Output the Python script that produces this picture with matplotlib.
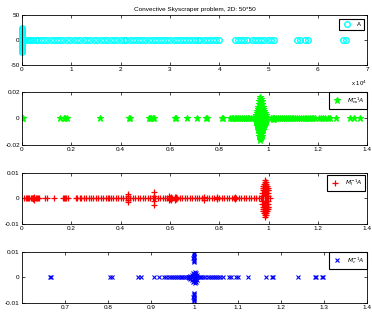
import numpy as np
import matplotlib
matplotlib.use("Agg")
import matplotlib.pyplot as plt

plt.rcParams['font.family'] = ['Liberation Sans', 'DejaVu Sans']

# Eigenvalues of A (real axis part)
a_re = [0, 150, 400, 700, 1000, 1400, 1800, 2300, 2800, 3300, 3900, 4500, 5100,
        5800, 6400, 7100, 7700, 8400, 9100, 9800, 10500, 11200, 11800, 12500,
        13200, 13900, 14600, 15300, 16000, 16600, 17200, 18000, 18600, 19300,
        20000, 20600, 21200, 21900, 22500, 23100, 23800, 24400, 25000, 25700,
        26300, 27000, 27600, 28200, 28900, 29500, 30100, 30800, 31400, 32000,
        32700, 33300, 33800, 34400, 35000, 35600, 36200, 36900, 37500, 38200,
        38800, 39400, 40000, 43300, 43900, 44500, 45100, 45700, 46700, 47300,
        47900, 48500, 49100, 49800, 50500, 51200, 55800, 56400, 57300, 58000,
        65200, 65800]
# eigenvalues of A near the origin with imaginary parts (upper half)
a_cpx_re = [20, 40, 30, 10, 50, 20, 30, 40, 10, 20, 30]
a_cpx_im = [24, 22, 20, 18, 16, 14, 12, 10, 8, 6, 3]

# M_ns^{-1} A
ns_re = [0.002, 0.005, 0.153, 0.17, 0.176, 0.182, 0.318, 0.435, 0.438, 0.515,
         0.52, 0.525, 0.53, 0.535, 0.62, 0.625, 0.67, 0.71, 0.745, 0.75, 0.81,
         0.815, 0.845, 0.85, 0.855, 0.862, 0.87, 0.877, 0.885, 0.893, 0.9,
         0.907, 0.915, 0.922, 0.93, 0.937, 0.944, 1.012, 1.017, 1.022, 1.03,
         1.04, 1.048, 1.056, 1.063, 1.07, 1.078, 1.086, 1.094, 1.1, 1.108,
         1.115, 1.123, 1.13, 1.138, 1.146, 1.153, 1.16, 1.168, 1.175, 1.18,
         1.19, 1.205, 1.212, 1.22, 1.228, 1.24, 1.248, 1.275, 1.33, 1.345, 1.37]
ns_cpx_re = [0.967,
             0.964, 0.970,
             0.962, 0.967, 0.972,
             0.960, 0.965, 0.970, 0.975,
             0.958, 0.963, 0.968, 0.973, 0.977,
             0.956, 0.961, 0.966, 0.971, 0.976, 0.979,
             0.954, 0.959, 0.964, 0.969, 0.974, 0.979, 0.982,
             0.952, 0.957, 0.962, 0.967, 0.972, 0.977, 0.982, 0.985,
             0.950, 0.955, 0.960, 0.965, 0.970, 0.975, 0.980, 0.985, 0.988,
             0.949, 0.954, 0.959, 0.964, 0.969, 0.974, 0.979, 0.984, 0.989,
             1.018, 1.022]
ns_cpx_im = [0.016,
             0.0145, 0.0145,
             0.013, 0.013, 0.013,
             0.011, 0.011, 0.011, 0.011,
             0.009, 0.009, 0.009, 0.009, 0.009,
             0.007, 0.007, 0.007, 0.007, 0.007, 0.007,
             0.0055, 0.0055, 0.0055, 0.0055, 0.0055, 0.0055, 0.0055,
             0.004, 0.004, 0.004, 0.004, 0.004, 0.004, 0.004, 0.004,
             0.0025, 0.0025, 0.0025, 0.0025, 0.0025, 0.0025, 0.0025, 0.0025,
             0.0025,
             0.001, 0.001, 0.001, 0.001, 0.001, 0.001, 0.001, 0.001, 0.001,
             0.0006, 0.0004]

# M_I^{-1} A
i_re = [0.01, 0.015, 0.02, 0.025, 0.03, 0.035, 0.04, 0.045, 0.05, 0.055, 0.06,
        0.065, 0.07, 0.095, 0.1, 0.13, 0.165, 0.17, 0.175, 0.18, 0.185, 0.22,
        0.225, 0.235, 0.24, 0.25, 0.26, 0.27, 0.28, 0.29, 0.3, 0.31, 0.32,
        0.33, 0.34, 0.35, 0.355, 0.36, 0.37, 0.38, 0.39, 0.4, 0.41, 0.42, 0.43,
        0.44, 0.45, 0.46, 0.47, 0.48, 0.49, 0.5, 0.51, 0.52, 0.53, 0.54, 0.55,
        0.56, 0.57, 0.58, 0.59, 0.6, 0.605, 0.61, 0.62, 0.63, 0.64, 0.65, 0.66,
        0.67, 0.68, 0.69, 0.7, 0.71, 0.72, 0.73, 0.74, 0.75, 0.76, 0.77, 0.78,
        0.79, 0.8, 0.81, 0.82, 0.83, 0.84, 0.85, 0.86, 0.87, 0.88, 0.89, 0.9,
        0.91, 0.92, 0.93, 0.94, 0.95, 0.96, 0.97, 1.005]
i_cpx_re = [0.05, 0.045, 0.43, 0.43, 0.535, 0.535, 0.598, 0.603, 0.6, 0.622,
            0.625, 0.74, 0.79, 0.865,
            0.987,
            0.984, 0.990,
            0.981, 0.986, 0.991,
            0.979, 0.984, 0.989, 0.994,
            0.977, 0.982, 0.987, 0.992, 0.996,
            0.976, 0.981, 0.986, 0.991, 0.996, 0.998,
            0.975, 0.980, 0.985, 0.990, 0.995, 0.999,
            0.974, 0.979, 0.984, 0.989, 0.994, 0.999]
i_cpx_im = [0.0005, 0.0003, 0.0016, 0.0008, 0.0025, 0.0011, 0.0008, 0.0005,
            0.0003, 0.0007, 0.0004, 0.0005, 0.0004, 0.0004,
            0.0072,
            0.0066, 0.0066,
            0.0058, 0.0058, 0.0058,
            0.005, 0.005, 0.005, 0.005,
            0.0041, 0.0041, 0.0041, 0.0041, 0.0041,
            0.0032, 0.0032, 0.0032, 0.0032, 0.0032, 0.0032,
            0.0022, 0.0022, 0.0022, 0.0022, 0.0022, 0.0022,
            0.001, 0.001, 0.001, 0.001, 0.001, 0.001]

# M_c^{-1} A
c_re = [0.665, 0.668, 0.804, 0.808, 0.87, 0.875, 0.906, 0.918, 0.93, 0.934,
        0.94, 0.946, 0.95, 0.955, 0.96, 0.964, 0.968, 0.972, 0.976, 0.98,
        0.984, 0.988, 0.992, 0.996, 1.0, 1.004, 1.008, 1.012, 1.016, 1.02,
        1.025, 1.03, 1.035, 1.04, 1.045, 1.05, 1.055, 1.06, 1.066, 1.08,
        1.085, 1.095, 1.1, 1.125, 1.165, 1.18, 1.182, 1.24, 1.278, 1.282,
        1.295, 1.298]
c_cpx_re = [0.99, 0.995, 1.0, 1.005, 0.998, 1.002, 0.987, 1.0, 0.996, 1.003,
            0.998, 0.999, 0.998, 0.997, 0.998, 0.999, 0.998, 0.998]
c_cpx_im = [0.0005, 0.001, 0.0015, 0.001, 0.0008, 0.0005, 0.0003, 0.0022,
            0.0018, 0.0017, 0.006, 0.0065, 0.007, 0.0075, 0.008, 0.0085,
            0.009, 0.0094]


def eig_points(re, cpx_re, cpx_im):
    # real eigenvalues plus conjugate pairs
    x = np.concatenate([re, cpx_re, cpx_re])
    y = np.concatenate([np.zeros(len(re)), cpx_im, -np.array(cpx_im)])
    return x, y


fig = plt.figure(figsize=(3.72, 3.25), dpi=100)
fs = 4.6

boxes = [(0.059, 0.800, 0.928, 0.154),
         (0.059, 0.554, 0.928, 0.163),
         (0.059, 0.311, 0.928, 0.157),
         (0.059, 0.068, 0.928, 0.157)]
axs = [fig.add_axes(b) for b in boxes]

def style(ax):
    ax.tick_params(direction='in', top=True, right=True, length=2.5,
                   width=0.5, labelsize=fs, pad=1.5)
    for s in ax.spines.values():
        s.set_linewidth(0.6)

# panel 1
ax = axs[0]
x, y = eig_points(a_re, a_cpx_re, a_cpx_im)
ax.plot(x, y, 'o', color='cyan', mfc='none', ms=4, mew=1.0, label='A',
        clip_on=False)
ax.set_xlim(0, 70000)
ax.set_ylim(-50, 50)
ax.set_xticks(np.arange(0, 70001, 10000))
ax.set_xticklabels([str(i) for i in range(8)])
ax.set_yticks([-50, 0, 50])
ax.set_yticklabels(['-50', '0', '50'])
ax.set_title('Convective Skyscraper problem, 2D: 50*50', fontsize=fs, pad=3)
ax.text(1.0, -0.27, 'x 10$^4$', transform=ax.transAxes, ha='right',
        va='top', fontsize=4.3)

# panel 2
ax = axs[1]
x, y = eig_points(ns_re, ns_cpx_re, ns_cpx_im)
ax.plot(x, y, '*', color='#00ff00', ms=4.5, mew=0.8, label='$M_{ns}^{-1}A$')
ax.set_ylim(-0.02, 0.02)
ax.set_yticks([-0.02, 0, 0.02])
ax.set_yticklabels(['-0.02', '0', '0.02'])

# panel 3
ax = axs[2]
x, y = eig_points(i_re, i_cpx_re, i_cpx_im)
ax.plot(x, y, '+', color='red', ms=4.5, mew=0.9, label='$M_I^{-1}A$')
ax.set_ylim(-0.01, 0.01)
ax.set_yticks([-0.01, 0, 0.01])
ax.set_yticklabels(['-0.01', '0', '0.01'])

for ax in axs[1:3]:
    ax.set_xlim(0, 1.4)
    ax.set_xticks(np.arange(0, 1.41, 0.2))
    ax.set_xticklabels(['0', '0.2', '0.4', '0.6', '0.8', '1', '1.2', '1.4'])

# panel 4
ax = axs[3]
x, y = eig_points(c_re, c_cpx_re, c_cpx_im)
ax.plot(x, y, 'x', color='blue', ms=3, mew=0.8, label='$M_c^{-1}A$')
ax.set_xlim(0.6, 1.4)
ax.set_xticks(np.arange(0.7, 1.41, 0.1))
ax.set_xticklabels(['0.7', '0.8', '0.9', '1', '1.1', '1.2', '1.3', '1.4'])
ax.set_ylim(-0.01, 0.01)
ax.set_yticks([-0.01, 0, 0.01])
ax.set_yticklabels(['-0.01', '0', '0.01'])

pads = [0.6, 0.0, 0.3, 0.0]
for ax, p in zip(axs, pads):
    style(ax)
    leg = ax.legend(loc='upper right', fontsize=4.3, fancybox=False,
                    edgecolor='black', borderaxespad=p, handlelength=1.6,
                    borderpad=0.5, handletextpad=0.8, framealpha=1)
    leg.get_frame().set_linewidth(0.8)

fig.savefig('out.png', dpi=100)
